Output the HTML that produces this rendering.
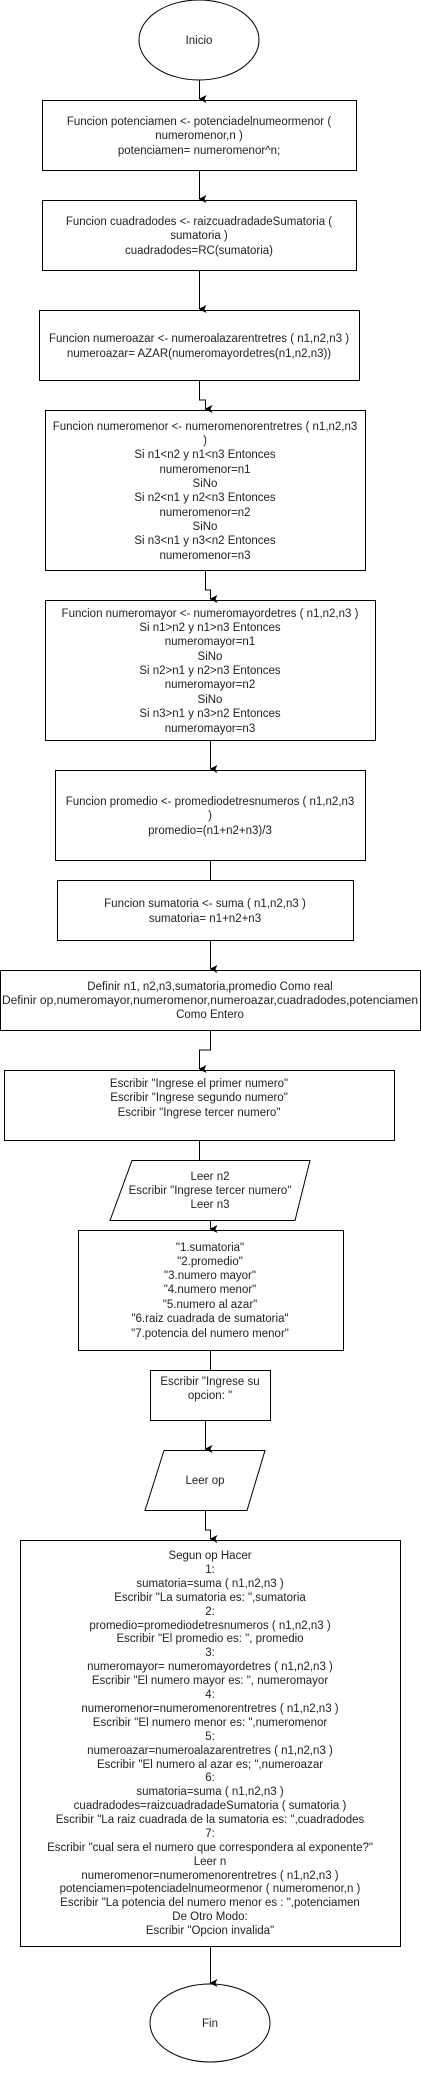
<!DOCTYPE html>
<html><head><meta charset="utf-8"><style>
html,body{margin:0;padding:0;background:#fff;}
svg{display:block;}
text{font-family:"Liberation Sans",Arial,sans-serif;font-size:11.5px;fill:#222;text-anchor:middle;}
</style></head><body>
<svg width="421" height="2081" viewBox="0 0 421 2081" xmlns="http://www.w3.org/2000/svg">
<defs><marker id="a" markerWidth="8" markerHeight="8" refX="4" refY="7" orient="auto" markerUnits="userSpaceOnUse"><path d="M0,0 L4,2 L8,0 L4,8 Z" fill="#000"/></marker></defs>
<g fill="none" stroke="#000" stroke-width="1">
<ellipse cx="199" cy="40" rx="60" ry="40" fill="#fff"/>
<rect x="42.5" y="100.5" width="314" height="70"/>
<rect x="42.5" y="200.5" width="314" height="70"/>
<rect x="39.5" y="310.5" width="320" height="70"/>
<rect x="45.5" y="410.5" width="320" height="160"/>
<rect x="45.5" y="600.5" width="330" height="140"/>
<rect x="55.5" y="770.5" width="310" height="90"/>
<rect x="57.5" y="880.5" width="296" height="60"/>
<rect x="0.5" y="970.5" width="420" height="60"/>
<rect x="4.5" y="1070.5" width="390" height="70"/>
<polygon points="132,1160.5 310,1160.5 295,1220.5 110,1220.5"/>
<rect x="78.5" y="1230.5" width="265" height="120"/>
<rect x="150.5" y="1370.5" width="120" height="50"/>
<polygon points="164,1450.5 265,1450.5 247,1510.5 145,1510.5"/>
<rect x="20.5" y="1540.5" width="380" height="406"/>
<ellipse cx="210" cy="2023" rx="60" ry="39"/>
<path d="M199.5,80 V99" marker-end="url(#a)"/>
<path d="M199.5,171 V199" marker-end="url(#a)"/>
<path d="M199.5,271 V309" marker-end="url(#a)"/>
<path d="M199.5,381 V400 H205.5 V409" marker-end="url(#a)"/>
<path d="M205.5,571 V590 H210.5 V599" marker-end="url(#a)"/>
<path d="M210.5,741 V769" marker-end="url(#a)"/>
<path d="M210.5,861 V880"/>
<path d="M210.5,941 V969" marker-end="url(#a)"/>
<path d="M210.5,1031 V1050 H199.5 V1069" marker-end="url(#a)"/>
<path d="M199.5,1141 V1160"/>
<path d="M210.5,1221 V1229" marker-end="url(#a)"/>
<path d="M210.5,1351 V1370"/>
<path d="M205.5,1421 V1449" marker-end="url(#a)"/>
<path d="M205.5,1511 V1530 H210.5 V1539" marker-end="url(#a)"/>
<path d="M210.5,1947 V1983" marker-end="url(#a)"/>
</g>
<text x="199" y="44">Inicio</text>
<text x="199" y="125">Funcion potenciamen &lt;- potenciadelnumeormenor (</text>
<text x="199" y="139">numeromenor,n )</text>
<text x="199" y="154">potenciamen= numeromenor^n;</text>
<text x="199" y="225">Funcion cuadradodes &lt;- raizcuadradadeSumatoria (</text>
<text x="199" y="239">sumatoria )</text>
<text x="199" y="254">cuadradodes=RC(sumatoria)</text>
<text x="199" y="342">Funcion numeroazar &lt;- numeroalazarentretres ( n1,n2,n3 )</text>
<text x="199" y="357">numeroazar= AZAR(numeromayordetres(n1,n2,n3))</text>
<text x="205" y="430">Funcion numeromenor &lt;- numeromenorentretres ( n1,n2,n3</text>
<text x="205" y="444">)</text>
<text x="205" y="458">Si n1&lt;n2 y n1&lt;n3  Entonces</text>
<text x="205" y="473">numeromenor=n1</text>
<text x="205" y="487">SiNo</text>
<text x="205" y="501">Si n2&lt;n1 y n2&lt;n3 Entonces</text>
<text x="205" y="516">numeromenor=n2</text>
<text x="205" y="530">SiNo</text>
<text x="205" y="544">Si n3&lt;n1 y n3&lt;n2 Entonces</text>
<text x="205" y="559">numeromenor=n3</text>
<text x="210" y="617">Funcion numeromayor &lt;- numeromayordetres ( n1,n2,n3 )</text>
<text x="210" y="631">Si n1&gt;n2 y n1&gt;n3 Entonces</text>
<text x="210" y="645">numeromayor=n1</text>
<text x="210" y="660">SiNo</text>
<text x="210" y="674">Si n2&gt;n1 y n2&gt;n3 Entonces</text>
<text x="210" y="688">numeromayor=n2</text>
<text x="210" y="703">SiNo</text>
<text x="210" y="717">Si n3&gt;n1 y n3&gt;n2 Entonces</text>
<text x="210" y="732">numeromayor=n3</text>
<text x="210" y="805">Funcion promedio &lt;- promediodetresnumeros ( n1,n2,n3</text>
<text x="210" y="819">)</text>
<text x="210" y="834">promedio=(n1+n2+n3)/3</text>
<text x="205" y="907">Funcion sumatoria &lt;- suma ( n1,n2,n3 )</text>
<text x="205" y="922">sumatoria= n1+n2+n3</text>
<text x="210" y="990">Definir n1, n2,n3,sumatoria,promedio Como real</text>
<text x="210" y="1004" textLength="416" lengthAdjust="spacingAndGlyphs">Definir op,numeromayor,numeromenor,numeroazar,cuadradodes,potenciamen</text>
<text x="210" y="1018">Como Entero</text>
<text x="199" y="1087">Escribir "Ingrese el primer numero"</text>
<text x="199" y="1101">Escribir "Ingrese segundo numero"</text>
<text x="199" y="1116">Escribir "Ingrese tercer numero"</text>
<text x="210" y="1180">Leer n2</text>
<text x="210" y="1194">Escribir "Ingrese tercer numero"</text>
<text x="210" y="1208">Leer n3</text>
<text x="210" y="1251">"1.sumatoria"</text>
<text x="210" y="1265">"2.promedio"</text>
<text x="210" y="1279">"3.numero mayor"</text>
<text x="210" y="1293">"4.numero menor"</text>
<text x="210" y="1308">"5.numero al azar"</text>
<text x="210" y="1322">"6.raiz cuadrada de sumatoria"</text>
<text x="210" y="1337">"7.potencia del numero menor"</text>
<text x="210" y="1385">Escribir "Ingrese su</text>
<text x="210" y="1399">opcion: "</text>
<text x="205" y="1484">Leer op</text>
<g>
<text x="210" y="1559">Segun op Hacer</text>
<text x="210" y="1573">1:</text>
<text x="210" y="1587">sumatoria=suma ( n1,n2,n3 )</text>
<text x="210" y="1601">Escribir "La sumatoria es: ",sumatoria</text>
<text x="210" y="1615">2:</text>
<text x="210" y="1629">promedio=promediodetresnumeros ( n1,n2,n3 )</text>
<text x="210" y="1642">Escribir "El promedio es: ", promedio</text>
<text x="210" y="1656">3:</text>
<text x="210" y="1670">numeromayor= numeromayordetres ( n1,n2,n3 )</text>
<text x="210" y="1684">Escribir "El numero mayor es: ", numeromayor</text>
<text x="210" y="1698">4:</text>
<text x="210" y="1712">numeromenor=numeromenorentretres ( n1,n2,n3 )</text>
<text x="210" y="1726">Escribir "El numero menor es: ",numeromenor</text>
<text x="210" y="1740">5:</text>
<text x="210" y="1754">numeroazar=numeroalazarentretres ( n1,n2,n3 )</text>
<text x="210" y="1768">Escribir "El numero al azar es; ",numeroazar</text>
<text x="210" y="1781">6:</text>
<text x="210" y="1795">sumatoria=suma ( n1,n2,n3 )</text>
<text x="210" y="1809">cuadradodes=raizcuadradadeSumatoria ( sumatoria )</text>
<text x="210" y="1823">Escribir "La raiz cuadrada de la sumatoria es: ",cuadradodes</text>
<text x="210" y="1837">7:</text>
<text x="210" y="1851">Escribir "cual sera el numero que correspondera al exponente?"</text>
<text x="210" y="1865">Leer n</text>
<text x="210" y="1879">numeromenor=numeromenorentretres ( n1,n2,n3 )</text>
<text x="210" y="1892">potenciamen=potenciadelnumeormenor ( numeromenor,n )</text>
<text x="210" y="1906">Escribir "La potencia del numero menor es : ",potenciamen</text>
<text x="210" y="1920">De Otro Modo:</text>
<text x="210" y="1934">Escribir "Opcion invalida"</text>
</g>
<text x="210" y="2027">Fin</text>
</svg>
</body></html>
